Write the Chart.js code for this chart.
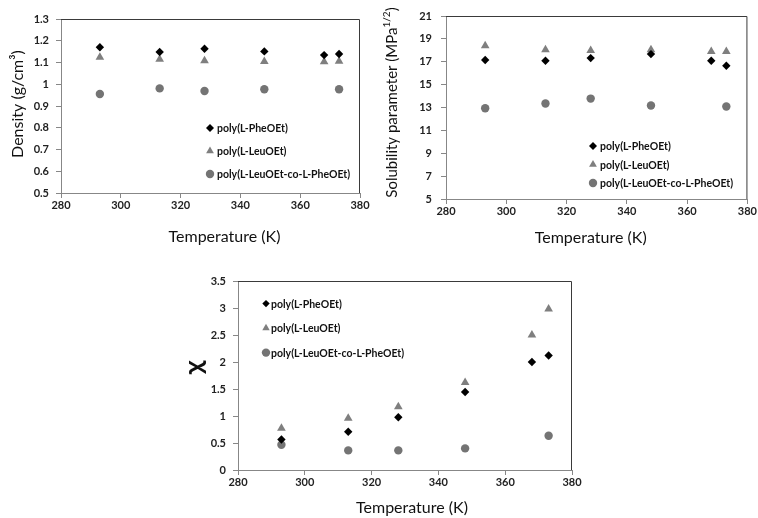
<!DOCTYPE html>
<html><head><meta charset="utf-8">
<script src="https://cdn.jsdelivr.net/npm/chart.js@4/dist/chart.umd.min.js"></script>
<style>
html,body{margin:0;padding:0;background:#fff;width:758px;height:518px;overflow:hidden;}
canvas{position:absolute;display:block;}
</style></head><body>
<canvas id="c1" width="380" height="260" style="left:0;top:0"></canvas>
<canvas id="c2" width="378" height="260" style="left:380px;top:0"></canvas>
<canvas id="c3" width="420" height="258" style="left:180px;top:260px"></canvas>
<script>
// ---------- data ----------
const seriesLabels = ['poly(L-PheOEt)', 'poly(L-LeuOEt)', 'poly(L-LeuOEt-co-L-PheOEt)'];
const temperatures = [293, 313, 328, 348, 368, 373];
const copolymerTemperatures = [293, 313, 328, 348, 373];

const densityPheOEt = [1.170, 1.148, 1.163, 1.151, 1.134, 1.139];
const densityLeuOEt = [1.124, 1.115, 1.108, 1.105, 1.104, 1.106];
const densityCopolymer = [0.955, 0.981, 0.969, 0.977, 0.977];

const solubilityPheOEt = [17.15, 17.09, 17.32, 17.67, 17.09, 16.65];
const solubilityLeuOEt = [18.39, 18.04, 17.99, 18.05, 17.90, 17.90];
const solubilityCopolymer = [12.94, 13.35, 13.78, 13.17, 13.09];

const chiPheOEt = [0.566, 0.707, 0.978, 1.445, 1.999, 2.12];
const chiLeuOEt = [0.775, 0.96, 1.17, 1.62, 2.50, 2.98];
const chiCopolymer = [0.467, 0.363, 0.363, 0.40, 0.633];

const xTitle = 'Temperature (K)';
const densityTitle = 'Density (g/cm³)';
const solubilityTitle = ['Solubility parameter (MPa', '1/2', ')'];
const chiTitle = 'χ';

// ---------- styles ----------
const TICK_FONT = {family: 'Lato', size: 11, weight: 'bold'};
const TITLE_FAMILY = 'Lato';
const AXIS_GREY = '#878787';
const styles = [
  {pointStyle: 'rectRot', color: '#000000', radius: 4.2},
  {pointStyle: 'triangle', color: '#7f7f7f', radius: 5},
  {pointStyle: 'circle', color: '#747474', radius: 4.2}
];

function pts(xs, ys) { return xs.map((x, i) => ({x: x, y: ys[i]})); }

function makeDatasets(a, b, c) {
  const vals = [pts(temperatures, a), pts(temperatures, b), pts(copolymerTemperatures, c)];
  return vals.map((d, i) => ({
    label: seriesLabels[i], data: d, showLine: false,
    pointStyle: styles[i].pointStyle, pointRadius: styles[i].radius, pointHoverRadius: styles[i].radius,
    backgroundColor: styles[i].color, borderColor: styles[i].color, pointBorderWidth: 0
  }));
}

function drawMarker(ctx, style, x, y, r, color) {
  ctx.save();
  ctx.fillStyle = color;
  ctx.beginPath();
  if (style === 'rectRot') {
    ctx.moveTo(x, y - r); ctx.lineTo(x + r, y); ctx.lineTo(x, y + r); ctx.lineTo(x - r, y);
  } else if (style === 'triangle') {
    ctx.moveTo(x, y - r); ctx.lineTo(x + r * 0.866, y + r * 0.5); ctx.lineTo(x - r * 0.866, y + r * 0.5);
  } else {
    ctx.arc(x, y, r, 0, Math.PI * 2);
  }
  ctx.closePath();
  ctx.fill();
  ctx.restore();
}

const framePlugin = {
  id: 'frame',
  beforeDatasetsDraw(chart) {
    const {ctx, chartArea: a} = chart;
    ctx.save();
    ctx.strokeStyle = '#3a3a3a';
    ctx.lineWidth = 1;
    ctx.beginPath();
    ctx.moveTo(a.left, a.top + 0.5); ctx.lineTo(a.right - 0.5, a.top + 0.5); ctx.lineTo(a.right - 0.5, a.bottom);
    ctx.stroke();
    ctx.restore();
  }
};

const legendPlugin = {
  id: 'innerLegend',
  afterDatasetsDraw(chart, args, opts) {
    const {ctx, chartArea: a} = chart;
    ctx.save();
    ctx.font = 'bold 10.5px Lato';
    ctx.fillStyle = '#111';
    ctx.textBaseline = 'middle';
    ctx.textAlign = 'left';
    chart.data.datasets.forEach((ds, i) => {
      const x = a.left + opts.dx, y = a.top + opts.dy + i * opts.gap;
      drawMarker(ctx, ds.pointStyle, x, y, opts.r[i], ds.backgroundColor);
      ctx.fillText(ds.label, x + opts.textGap, y + 1);
    });
    ctx.restore();
  }
};

const titlePlugin = {
  id: 'titles',
  afterDraw(chart, args, opts) {
    const {ctx, chartArea: a} = chart;
    ctx.save();
    ctx.fillStyle = '#111';
    ctx.textBaseline = 'middle';
    // x title
    ctx.font = '16px ' + TITLE_FAMILY;
    ctx.textAlign = 'center';
    ctx.fillText(opts.xText, (a.left + a.right) / 2 + opts.xdx, a.bottom + opts.xdy);
    // y title
    ctx.translate(opts.yx, (a.top + a.bottom) / 2 + opts.ydy);
    ctx.rotate(-Math.PI / 2);
    if (Array.isArray(opts.yText)) {
      const big = (opts.yFont || '16px ' + TITLE_FAMILY), small = '10px ' + TITLE_FAMILY;
      ctx.font = big; const w1 = ctx.measureText(opts.yText[0]).width; const w3 = ctx.measureText(opts.yText[2]).width;
      ctx.font = small; const w2 = ctx.measureText(opts.yText[1]).width;
      let x0 = -(w1 + w2 + w3) / 2;
      ctx.textAlign = 'left';
      ctx.font = big; ctx.fillText(opts.yText[0], x0, 0);
      ctx.font = small; ctx.fillText(opts.yText[1], x0 + w1, -5);
      ctx.font = big; ctx.fillText(opts.yText[2], x0 + w1 + w2, 0);
    } else {
      ctx.font = opts.yFont || ('16px ' + TITLE_FAMILY);
      ctx.textAlign = 'center';
      ctx.fillText(opts.yText, 0, 0);
    }
    ctx.restore();
  }
};

function fmt(v) { return String(Number(v.toFixed(3))); }

function makeChart(id, datasets, yMin, yMax, yStep, geo, legend, titles) {
  return new Chart(document.getElementById(id), {
    type: 'scatter',
    data: {datasets: datasets},
    plugins: [framePlugin, legendPlugin, titlePlugin],
    options: {
      responsive: false, animation: false, devicePixelRatio: 1,
      layout: {padding: {top: geo.top, right: geo.right, left: 0, bottom: 0}},
      plugins: {legend: {display: false}, tooltip: {enabled: false}, innerLegend: legend, titles: titles},
      scales: {
        x: {
          type: 'linear', min: 280, max: 380,
          ticks: {stepSize: 20, font: TICK_FONT, color: '#222', padding: 1, maxRotation: 0, callback: fmt},
          grid: {drawOnChartArea: false, drawTicks: true, tickLength: 5, color: AXIS_GREY},
          border: {color: AXIS_GREY},
          afterFit(s) { s.height = geo.xh; }
        },
        y: {
          type: 'linear', min: yMin, max: yMax,
          ticks: {stepSize: yStep, font: TICK_FONT, color: '#222', padding: geo.ypad, callback: fmt},
          grid: {drawOnChartArea: false, drawTicks: true, tickLength: 5, color: AXIS_GREY},
          border: {color: AXIS_GREY},
          afterFit(s) { s.width = geo.yw; }
        }
      }
    }
  });
}

makeChart('c1', makeDatasets(densityPheOEt, densityLeuOEt, densityCopolymer), 0.5, 1.3, 0.1,
  {top: 19, right: 20, xh: 67, yw: 61, ypad: 7},
  {dx: 149, dy: 109, gap: 23, r: [4, 4.5, 4.2], textGap: 7},
  {xText: xTitle, xdx: 14, xdy: 44, yText: densityTitle, yx: 18, ydy: -2});

makeChart('c2', makeDatasets(solubilityPheOEt, solubilityLeuOEt, solubilityCopolymer), 5, 21, 2,
  {top: 16, right: 10, xh: 61, yw: 66, ypad: 9},
  {dx: 147, dy: 130, gap: 18.5, r: [4, 4.5, 4.2], textGap: 7},
  {xText: xTitle, xdx: -6, xdy: 39, yText: solubilityTitle, yx: 12, ydy: -5, yFont: '15px ' + TITLE_FAMILY});

makeChart('c3', makeDatasets(chiPheOEt, chiLeuOEt, chiCopolymer), 0, 3.5, 0.5,
  {top: 21, right: 28, xh: 48, yw: 58, ypad: 7},
  {dx: 28, dy: 22.6, gap: 24.5, r: [3.7, 4.3, 4.2], textGap: 5},
  {xText: xTitle, xdx: 7, xdy: 38, yText: chiTitle, yx: 15, ydy: -8, yFont: 'bold 22px "Noto Sans"'});
</script>
</body></html>
